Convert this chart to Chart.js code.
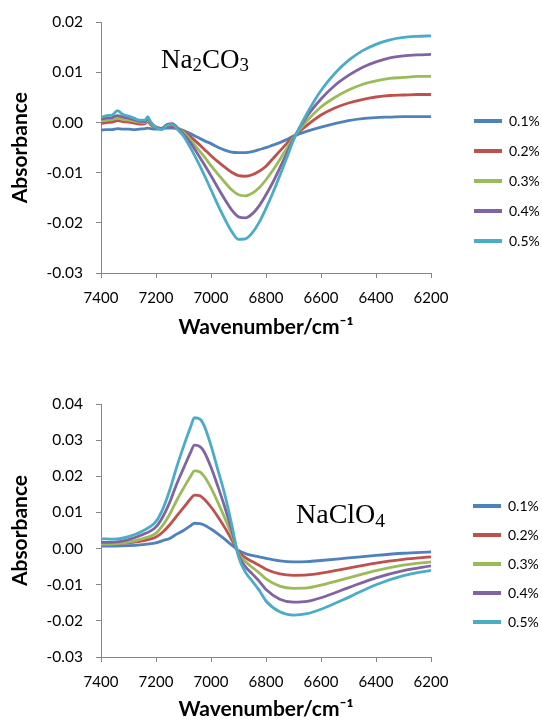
<!DOCTYPE html>
<html><head><meta charset="utf-8">
<script src="https://cdn.jsdelivr.net/npm/chart.js@4.4.1/dist/chart.umd.min.js"></script>
<style>
html,body{margin:0;padding:0;background:#fff;width:542px;height:722px;overflow:hidden;}
.wrap{position:absolute;left:0;width:542px;height:361px;}
.lbl{position:absolute;font-family:"Liberation Serif","Times New Roman",serif;font-size:27px;color:#000;white-space:nowrap;line-height:1;}
.lbl sub{font-size:70%;vertical-align:-0.18em;line-height:0;}
</style></head><body>
<div class="wrap" style="top:0"><canvas id="c1" width="542" height="361"></canvas></div>
<div class="wrap" style="top:361px"><canvas id="c2" width="542" height="361"></canvas></div>
<div class="lbl" style="left:161px;top:46px">Na<sub>2</sub>CO<sub>3</sub></div>
<div class="lbl" style="left:296px;top:500px;font-size:28px">NaClO<sub>4</sub></div>
<script>
// ---- data ----
const seriesLabels = ['0.1%','0.2%','0.3%','0.4%','0.5%'];
const seriesColors = ['#4F81BD','#C0504D','#9BBB59','#8064A2','#4BACC6'];
const xTickLabels = [7400,7200,7000,6800,6600,6400,6200];
const yTicksTop = [0.02,0.01,0.00,-0.01,-0.02,-0.03];
const yTicksBottom = [0.04,0.03,0.02,0.01,0.00,-0.01,-0.02,-0.03];

const wnNa2CO3 = [7400,7380,7360,7340,7320,7300,7280,7260,7240,7230,7220,7200,7180,7160,7140,7120,7100,7075,7050,7025,7000,6975,6950,6925,6900,6875,6850,6825,6800,6775,6750,6725,6700,6650,6600,6550,6500,6450,6400,6350,6300,6250,6200];
const na2co3_01 = [-0.0015,-0.0014,-0.0014,-0.0012,-0.0013,-0.0013,-0.0014,-0.0013,-0.0012,-0.0011,-0.0012,-0.0013,-0.0012,-0.0011,-0.0011,-0.0012,-0.0016,-0.0022,-0.0029,-0.0036,-0.0042,-0.0049,-0.0055,-0.0059,-0.0060,-0.0060,-0.0058,-0.0054,-0.0050,-0.0045,-0.0040,-0.0034,-0.0027,-0.0017,-0.0009,-0.0002,0.0004,0.0008,0.0010,0.0011,0.0012,0.0012,0.0012];
const na2co3_02 = [-0.0002,0.0000,0.0001,0.0004,0.0002,0.0001,-0.0001,-0.0003,-0.0002,0.0002,-0.0004,-0.0010,-0.0012,-0.0006,-0.0008,-0.0012,-0.0018,-0.0028,-0.0040,-0.0053,-0.0066,-0.0078,-0.0089,-0.0099,-0.0106,-0.0107,-0.0104,-0.0097,-0.0087,-0.0072,-0.0057,-0.0042,-0.0028,-0.0005,0.0015,0.0029,0.0039,0.0046,0.0051,0.0054,0.0055,0.0056,0.0056];
const na2co3_03 = [0.0003,0.0005,0.0006,0.0009,0.0006,0.0005,0.0003,0.0001,0.0000,0.0005,-0.0002,-0.0009,-0.0011,-0.0005,-0.0003,-0.0011,-0.0020,-0.0034,-0.0051,-0.0068,-0.0086,-0.0103,-0.0119,-0.0134,-0.0144,-0.0146,-0.0141,-0.0130,-0.0114,-0.0095,-0.0074,-0.0052,-0.0030,0.0004,0.0031,0.0050,0.0065,0.0076,0.0083,0.0088,0.0090,0.0092,0.0092];
const na2co3_04 = [0.0007,0.0009,0.0010,0.0014,0.0011,0.0009,0.0006,0.0003,0.0002,0.0008,0.0000,-0.0009,-0.0012,-0.0004,-0.0002,-0.0012,-0.0023,-0.0040,-0.0061,-0.0083,-0.0106,-0.0130,-0.0153,-0.0174,-0.0188,-0.0190,-0.0182,-0.0166,-0.0144,-0.0119,-0.0091,-0.0062,-0.0032,0.0013,0.0047,0.0074,0.0094,0.0110,0.0121,0.0129,0.0133,0.0135,0.0136];
const na2co3_05 = [0.0010,0.0014,0.0015,0.0024,0.0016,0.0013,0.0009,0.0005,0.0005,0.0012,0.0002,-0.0010,-0.0014,-0.0006,-0.0004,-0.0015,-0.0027,-0.0050,-0.0076,-0.0104,-0.0134,-0.0164,-0.0192,-0.0217,-0.0233,-0.0232,-0.0220,-0.0199,-0.0171,-0.0140,-0.0106,-0.0071,-0.0035,0.0019,0.0064,0.0098,0.0124,0.0143,0.0156,0.0165,0.0170,0.0172,0.0173];

const wnNaClO4 = [7400,7350,7300,7250,7200,7175,7150,7125,7100,7075,7060,7040,7025,7000,6975,6950,6925,6900,6875,6850,6825,6800,6750,6700,6650,6600,6500,6400,6300,6200];
const naclo4_01 = [0.0007,0.0007,0.0008,0.0011,0.0016,0.0022,0.0028,0.0040,0.0050,0.0063,0.0070,0.0069,0.0065,0.0054,0.0041,0.0026,0.0010,-0.0005,-0.0014,-0.0019,-0.0023,-0.0027,-0.0034,-0.0037,-0.0036,-0.0033,-0.0026,-0.0019,-0.0013,-0.0009];
const naclo4_02 = [0.0015,0.0014,0.0016,0.0021,0.0032,0.0046,0.0066,0.0090,0.0113,0.0137,0.0148,0.0146,0.0137,0.0115,0.0088,0.0058,0.0025,-0.0009,-0.0025,-0.0036,-0.0046,-0.0057,-0.0070,-0.0074,-0.0073,-0.0068,-0.0054,-0.0040,-0.0030,-0.0023];
const naclo4_03 = [0.0012,0.0013,0.0018,0.0027,0.0043,0.0065,0.0095,0.0133,0.0167,0.0199,0.0215,0.0212,0.0200,0.0168,0.0128,0.0085,0.0038,-0.0013,-0.0036,-0.0052,-0.0067,-0.0084,-0.0104,-0.0110,-0.0109,-0.0101,-0.0081,-0.0061,-0.0046,-0.0037];
const naclo4_04 = [0.0017,0.0018,0.0025,0.0038,0.0060,0.0088,0.0128,0.0178,0.0222,0.0265,0.0286,0.0282,0.0268,0.0225,0.0172,0.0115,0.0052,-0.0018,-0.0050,-0.0070,-0.0090,-0.0113,-0.0140,-0.0148,-0.0146,-0.0136,-0.0108,-0.0081,-0.0061,-0.0048];
const naclo4_05 = [0.0027,0.0026,0.0033,0.0048,0.0075,0.0110,0.0162,0.0225,0.0282,0.0335,0.0362,0.0358,0.0340,0.0285,0.0218,0.0150,0.0068,-0.0022,-0.0065,-0.0090,-0.0115,-0.0145,-0.0175,-0.0184,-0.0180,-0.0168,-0.0135,-0.0100,-0.0075,-0.0060];

// ---- chart builder ----
const AXIS = '#868686';
function makeChart(id, wn, series, yTicks, lay) {
  const datasets = series.map((ys, i) => ({
    label: seriesLabels[i],
    data: wn.map((x, k) => ({x: x, y: ys[k]})),
    borderColor: seriesColors[i],
    backgroundColor: seriesColors[i],
    borderWidth: 2.8,
    pointRadius: 0,
    cubicInterpolationMode: 'monotone',
    fill: false,
    order: -i,
    xAxisID: 'x', yAxisID: 'y'
  }));
  return new Chart(document.getElementById(id), {
    type: 'line',
    data: {datasets},
    options: {
      responsive: false, animation: false, devicePixelRatio: 1,
      layout: {padding: {top: lay.top, bottom: 0, left: 0, right: 0}},
      scales: {
        x: {
          type: 'linear', reverse: true,
          min: Math.min(...xTickLabels), max: Math.max(...xTickLabels),
          afterBuildTicks: s => { s.ticks = xTickLabels.map(v => ({value: v})); },
          ticks: {font: {family: 'Lato', size: 15}, color: '#000', padding: 11, maxRotation: 0, autoSkip: false,
                  callback: v => String(v)},
          grid: {display: true, drawOnChartArea: false, drawTicks: true, tickLength: 5, color: AXIS, lineWidth: 1},
          border: {display: true, color: AXIS, width: 1},
          title: {display: true, text: 'Wavenumber/cm\u207B\u00B9', color: '#000',
                  font: {family: 'Lato', size: 21, weight: 'bold'}, padding: {top: 0, bottom: lay.xTitlePad}},
          afterFit: s => { s.height = lay.xHeight; }
        },
        y: {
          type: 'linear',
          min: Math.min(...yTicks), max: Math.max(...yTicks),
          afterBuildTicks: s => { s.ticks = yTicks.slice().sort((a,b)=>a-b).map(v => ({value: v})); },
          ticks: {font: {family: 'Lato', size: 15.5}, color: '#000', padding: 13,
                  callback: v => (Math.abs(v) < 1e-9 ? 0 : v).toFixed(2)},
          grid: {display: true, drawOnChartArea: false, drawTicks: true, tickLength: 5, color: AXIS, lineWidth: 1},
          border: {display: true, color: AXIS, width: 1},
          title: {display: true, text: 'Absorbance', color: '#000',
                  font: {family: 'Lato', size: 21, weight: 'bold'}, padding: {top: 8, bottom: 0}},
          afterFit: s => { s.width = 101; }
        },
        yR: {
          type: 'linear', position: 'right', display: true,
          grid: {display: false}, border: {display: false}, ticks: {display: false},
          afterFit: s => { s.width = 27; }
        }
      },
      plugins: {
        tooltip: {enabled: false},
        title: {display: false},
        legend: {
          display: true, position: 'right', align: 'start', fullSize: true, maxWidth: 84,
          title: {display: true, text: '', font: {size: 10, lineHeight: 1}, padding: {top: lay.legTitle, bottom: 0}},
          labels: {
            boxWidth: 28, boxHeight: 4, padding: lay.legPad, color: '#000',
            font: {family: 'Lato', size: 14},
            sort: (a, b) => a.datasetIndex - b.datasetIndex,
            generateLabels: chart => Chart.defaults.plugins.legend.labels.generateLabels(chart)
              .map(l => Object.assign(l, {lineWidth: 0, fillStyle: l.strokeStyle}))
          }
        }
      }
    }
  });
}

makeChart('c1', wnNa2CO3, [na2co3_01, na2co3_02, na2co3_03, na2co3_04, na2co3_05], yTicksTop,
  {top: 20, xHeight: 88, xTitlePad: 21, legTitle: 68, legPad: 16});
makeChart('c2', wnNaClO4, [naclo4_01, naclo4_02, naclo4_03, naclo4_04, naclo4_05], yTicksBottom,
  {top: 43, xHeight: 65, xTitlePad: 0, legTitle: 70, legPad: 15});
</script>
</body></html>
